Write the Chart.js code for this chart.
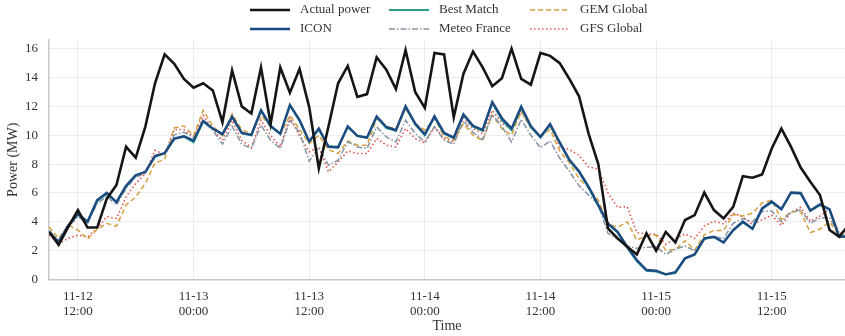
<!DOCTYPE html>
<html>
<head>
<meta charset="utf-8">
<script src="https://cdn.jsdelivr.net/npm/chart.js@4.4.1/dist/chart.umd.min.js"></script>
<style>
  html, body { margin: 0; padding: 0; background: #fff; }
  #wrap { width: 845px; height: 336px; }
</style>
</head>
<body>
<div id="wrap"><canvas id="chart"></canvas></div>
<script>
// hourly data, index 0 = 11-12 09:00
const tickHours = [3, 15, 27, 39, 51, 63, 75];
const tickLabels = [
    ['11-12', '12:00'], ['11-13', '00:00'], ['11-13', '12:00'], ['11-14', '00:00'],
    ['11-14', '12:00'], ['11-15', '00:00'], ['11-15', '12:00']
];
const legendOrder = ['Actual power', 'ICON', 'Best Match', 'Meteo France', 'GEM Global', 'GFS Global'];

const actualPower = [3.3, 2.4, 3.65, 4.8, 3.6, 3.6, 5.6, 6.55, 9.2, 8.45,
    10.6, 13.6, 15.6, 14.95, 13.9, 13.3, 13.6, 13.1, 10.9, 14.5,
    12.0, 11.5, 14.7, 10.8, 14.7, 12.95, 14.6, 11.95, 7.7, 10.6,
    13.6, 14.8, 12.65, 12.85, 15.4, 14.55, 13.2, 15.9, 13.0, 11.9,
    15.7, 15.6, 11.25, 14.25, 15.8, 14.7, 13.4, 13.95, 16.0, 13.9,
    13.5, 15.7, 15.5, 15.0, 13.9, 12.7, 10.1, 8.0, 3.55, 2.85,
    2.27, 1.74, 3.2, 2.0, 3.3, 2.57, 4.12, 4.46, 6.03, 4.81,
    4.23, 5.04, 7.16, 7.05, 7.28, 9.08, 10.46, 9.19, 7.76, 6.77,
    5.85, 3.43, 2.96, 3.8];

const icon = [3.3, 2.6, 3.75, 4.55, 4.0, 5.5, 6.0, 5.37, 6.5, 7.23,
    7.46, 8.56, 8.75, 9.77, 9.93, 9.62, 11.0, 10.46, 10.08, 11.28,
    10.16, 10.02, 11.73, 10.65, 10.1, 12.1, 11.05, 9.57, 10.46, 9.19,
    9.15, 10.62, 9.95, 9.84, 11.31, 10.57, 10.35, 12.0, 10.8, 10.07,
    11.31, 10.16, 9.84, 11.45, 10.65, 10.38, 12.3, 11.18, 10.47, 11.98,
    10.63, 9.88, 10.78, 9.5, 8.3, 7.5, 6.42, 5.16, 3.89, 3.31,
    2.27, 1.35, 0.66, 0.61, 0.36, 0.5, 1.47, 1.74, 2.85, 2.96,
    2.57, 3.43, 4.02, 3.52, 4.93, 5.4, 4.88, 6.03, 6.0, 4.78,
    5.2, 4.87, 2.96, 3.0];

const bestMatch = [3.25, 2.6, 3.75, 4.5, 4.0, 5.45, 5.95, 5.35, 6.45, 7.2,
    7.45, 8.5, 8.75, 9.75, 9.9, 9.5, 10.95, 10.45, 10.05, 11.25,
    10.15, 10.0, 11.7, 10.6, 10.1, 12.05, 11.0, 9.55, 10.4, 9.25,
    9.2, 10.55, 9.95, 9.8, 11.25, 10.5, 10.3, 11.95, 10.75, 10.0,
    11.25, 10.1, 9.8, 11.4, 10.6, 10.3, 12.25, 11.05, 10.35, 11.9,
    10.55, 9.85, 10.7, 9.45, 8.25, 7.45, 6.35, 5.1, 3.85, 3.25,
    2.2, 1.25, 0.6, 0.55, 0.35, 0.45, 1.45, 1.7, 2.8, 2.95,
    2.55, 3.4, 3.95, 3.5, 4.9, 5.35, 4.85, 6.0, 5.95, 4.75,
    5.15, 4.85, 2.95, 3.0];

const meteoFrance = [3.4, 2.7, 3.65, 4.35, 3.9, 5.27, 5.75, 5.16, 6.3, 7.1,
    7.35, 8.6, 8.73, 10.03, 10.2, 9.82, 10.92, 10.35, 9.38, 10.62,
    9.38, 9.08, 10.69, 9.65, 9.08, 11.04, 10.2, 8.2, 9.15, 7.92,
    8.27, 9.54, 9.19, 9.08, 10.57, 9.88, 9.54, 11.04, 10.12, 9.54,
    10.6, 9.65, 9.38, 11.0, 10.2, 9.7, 11.45, 10.6, 9.54, 11.1,
    10.0, 9.13, 9.6, 8.4, 7.5, 6.5, 5.85, 5.2, 3.2, 2.8,
    2.32, 2.16, 2.23, 2.27, 1.74, 2.11, 2.32, 1.99, 2.85, 2.96,
    2.85, 3.89, 4.23, 4.0, 4.72, 4.75, 4.0, 4.69, 4.81, 3.9,
    4.25, 4.3, 3.08, 3.1];

const gemGlobal = [3.65, 2.85, 3.77, 3.43, 2.8, 3.47, 3.89, 3.7, 5.16, 5.73,
    6.66, 8.08, 8.32, 10.5, 10.65, 9.97, 11.73, 10.63, 9.97, 11.5,
    10.37, 10.1, 11.38, 10.6, 10.05, 11.38, 10.4, 9.42, 10.0, 9.0,
    8.73, 9.6, 9.31, 9.31, 11.15, 10.57, 10.46, 11.85, 10.8, 10.35,
    11.15, 9.9, 9.65, 10.8, 10.0, 9.62, 11.4, 10.45, 10.0, 11.65,
    10.5, 9.9, 10.4, 8.9, 8.1, 7.0, 6.31, 5.5, 3.89, 3.61,
    4.0, 2.73, 3.03, 3.08, 2.04, 2.07, 2.69, 2.04, 3.1, 3.4,
    3.4, 4.5, 4.4, 4.6, 5.3, 5.5, 4.15, 4.7, 4.7, 3.25,
    3.5, 4.0, 3.0, 3.4];

const gfsGlobal = [3.08, 2.5, 2.85, 3.08, 2.96, 3.54, 4.35, 4.23, 5.73, 6.66,
    7.35, 8.96, 8.62, 10.4, 10.39, 9.88, 11.38, 10.39, 9.65, 11.04,
    9.65, 9.15, 11.04, 10.0, 9.19, 11.22, 9.95, 8.85, 9.19, 7.46,
    8.15, 8.91, 8.73, 8.73, 9.77, 9.31, 9.19, 10.46, 9.77, 9.47,
    10.57, 9.77, 9.54, 11.22, 10.46, 10.12, 11.73, 10.85, 10.35, 11.61,
    10.57, 9.93, 10.69, 9.2, 9.0, 8.6, 7.8, 7.65, 6.0, 5.0,
    5.04, 3.25, 3.15, 3.15, 2.45, 2.85, 3.15, 2.85, 3.7, 4.05,
    3.85, 4.6, 4.35, 3.8, 4.15, 4.45, 3.75, 4.65, 5.0, 4.05,
    4.4, 4.87, 3.2, 3.4];

const serif = '"Liberation Serif", "DejaVu Serif", serif';
const textColor = '#333';

function toPoints(values) {
    return values.map((v, i) => ({ x: i, y: v }));
}

function line(label, values, color, width, dash) {
    return {
        label: label,
        data: toPoints(values),
        borderColor: color,
        borderWidth: width,
        borderDash: dash || [],
        pointRadius: 0,
        tension: 0,
        fill: false
    };
}

// legend in 3 columns x 2 rows like the original
const gridLegend = {
    id: 'gridLegend',
    afterDraw(chart) {
        const ctx = chart.ctx;
        const cols = [250, 389, 530];
        const rows = [10, 29];
        legendOrder.forEach((name, k) => {
            const ds = chart.data.datasets.find(d => d.label === name);
            const x = cols[Math.floor(k / 2)];
            const y = rows[k % 2];
            ctx.save();
            ctx.strokeStyle = ds.borderColor;
            ctx.lineWidth = ds.borderWidth;
            ctx.setLineDash(ds.borderDash);
            ctx.beginPath();
            ctx.moveTo(x, y);
            ctx.lineTo(x + 40, y);
            ctx.stroke();
            ctx.setLineDash([]);
            ctx.fillStyle = textColor;
            ctx.font = '13px ' + serif;
            ctx.textBaseline = 'middle';
            ctx.fillText(name, x + 50, y);
            ctx.restore();
        });
    }
};

const ctx = document.querySelector('#chart').getContext('2d');
new Chart(ctx, {
    type: 'line',
    data: {
        // first dataset is drawn on top
        datasets: [
            line('Actual power', actualPower, '#151515', 2.6),
            line('ICON', icon, '#1d4a80', 2.4),
            line('Best Match', bestMatch, '#2a9d8f', 2.0),
            line('Meteo France', meteoFrance, '#8593a3', 1.5, [6, 2, 1.5, 2]),
            line('GEM Global', gemGlobal, '#d6a040', 1.5, [5, 3]),
            line('GFS Global', gfsGlobal, '#e3534a', 1.6, [1.5, 2.5])
        ]
    },
    options: {
        responsive: true,
        maintainAspectRatio: false,
        animation: false,
        layout: { padding: { top: 40, right: 0, left: 0, bottom: 0 } },
        plugins: {
            legend: { display: false },
            tooltip: { enabled: false }
        },
        scales: {
            x: {
                type: 'linear',
                min: 0,
                max: 82.6,
                afterBuildTicks: axis => {
                    axis.ticks = tickHours.map(v => ({ value: v }));
                },
                afterFit: scale => { scale.height = 56.5; },
                ticks: {
                    callback: (value, index) => tickLabels[index],
                    font: { family: serif, size: 13 },
                    color: textColor,
                    padding: 9,
                    maxRotation: 0,
                    autoSkip: false
                },
                grid: { color: '#ececec', drawTicks: false },
                border: { color: '#c8c8c8', width: 1.5 },
                title: {
                    display: true,
                    text: 'Time',
                    font: { family: serif, size: 14 },
                    color: textColor,
                    padding: { top: 0, bottom: 1 }
                }
            },
            y: {
                min: 0,
                max: 16.6,
                afterFit: scale => { scale.width = 49; },
                ticks: {
                    stepSize: 2,
                    includeBounds: false,
                    font: { family: serif, size: 13 },
                    color: textColor,
                    padding: 11
                },
                grid: { color: '#ececec', drawTicks: false },
                border: { color: '#c8c8c8', width: 1.5 },
                title: {
                    display: true,
                    text: 'Power (MW)',
                    font: { family: serif, size: 14 },
                    color: textColor,
                    padding: { top: 5, bottom: 0 }
                }
            }
        }
    },
    plugins: [gridLegend]
});
</script>
</body>
</html>
